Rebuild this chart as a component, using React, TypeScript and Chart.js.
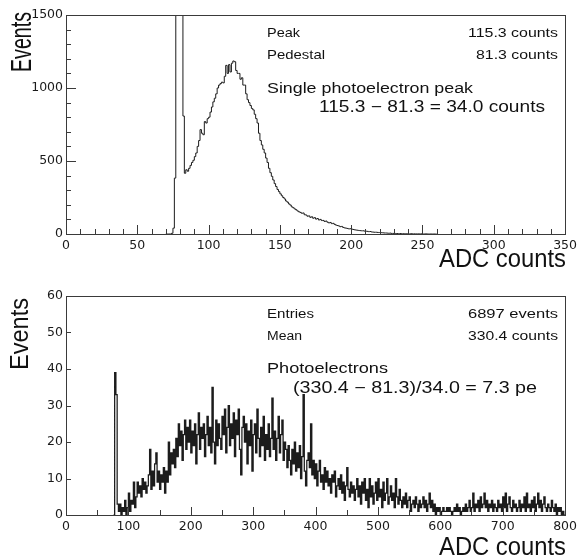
import React, { useEffect, useRef } from "react";
import { Chart, registerables } from "chart.js";

Chart.register(...registerables);

// ---------------- DATA ----------------
// Top histogram: single photoelectron spectrum, 1 ADC count per bin, first bin at 70
const topFirstBin = 70;
const topBinWidth = 1;
const topCounts = [
  0, 0, 0, 0, 5, 40, 383, 2600, 4800, 5200,
  3900, 2100, 808, 416, 440, 430, 450, 470, 490, 505,
  530, 555, 600, 640, 715, 690, 680, 770, 760, 790,
  800, 835, 870, 905, 930, 960, 1000, 1020, 1030, 1040,
  1035, 1080, 1155, 1100, 1160, 1110, 1170, 1185, 1180, 1120,
  1100, 1100, 1060, 1070, 1020, 1020, 960, 920, 900, 880,
  860, 850, 820, 790, 760, 690, 640, 610, 580, 555,
  520, 490, 450, 420, 395, 370, 345, 325, 305, 290,
  275, 262, 250, 240, 226, 218, 206, 198, 186, 180,
  172, 166, 158, 152, 148, 142, 144, 132, 130, 122,
  124, 114, 118, 108, 112, 102, 106, 96, 100, 92,
  93, 86, 89, 81, 76, 79, 71, 73, 66, 61,
  58, 55, 50, 52, 45, 42, 40, 38, 35, 36,
  34, 31, 29, 27, 26, 24, 23, 22, 22, 20,
  19, 18, 16, 17, 14, 13, 12, 12, 11, 10,
  10, 9, 8, 7, 7, 6, 5, 6, 4, 4,
  4, 3, 3, 2, 3, 2, 2, 1, 2, 1,
  1, 1, 2, 0, 1, 1, 0, 1, 0, 1,
  0, 0, 1, 0, 0, 0, 0, 0, 0, 0,
];

// Bottom histogram: multi-photoelectron spectrum, 2 ADC counts per bin, first bin at 76
const botFirstBin = 76;
const botBinWidth = 2;
const botCounts = [
  0, 39, 33, 3, 1, 3, 0, 2, 1, 4,
  0, 2, 6, 1, 4, 3, 9, 2, 5, 9,
  6, 8, 5, 10, 7, 9, 6, 8, 11, 18,
  7, 12, 8, 14, 17, 9, 12, 7, 11, 9,
  13, 6, 12, 9, 20, 11, 17, 14, 18, 13,
  21, 16, 25, 19, 23, 15, 22, 26, 18, 24,
  20, 26, 17, 23, 19, 25, 14, 22, 28, 18,
  24, 21, 25, 16, 22, 27, 19, 24, 17, 35,
  20, 14, 26, 19, 25, 21, 18, 27, 22, 29,
  17, 24, 30, 19, 25, 21, 28, 16, 26, 22,
  29, 18, 11, 24, 27, 20, 25, 14, 23, 19,
  26, 12, 22, 25, 17, 29, 21, 16, 24, 19,
  27, 15, 22, 18, 25, 16, 21, 32, 18, 23,
  15, 21, 27, 17, 22, 26, 15, 20, 18, 13,
  19, 15, 11, 18, 14, 20, 12, 17, 13, 19,
  10, 16, 33, 12, 8, 15, 17, 13, 25, 11,
  15, 10, 14, 8, 12, 15, 9, 11, 7, 13,
  9, 12, 8, 10, 6, 11, 9, 12, 5, 8,
  10, 7, 11, 6, 9, 4, 8, 13, 7, 5,
  9, 6, 8, 4, 7, 10, 5, 8, 3, 9,
  6, 10, 4, 7, 2, 10, 5, 8, 3, 6,
  9, 4, 10, 5, 7, 2, 9, 4, 6, 10,
  3, 5, 8, 4, 6, 2, 10, 5, 3, 7,
  4, 2, 5, 3, 6, 2, 4, 5, 1, 3,
  4, 2, 5, 3, 1, 4, 2, 3, 5, 2,
  4, 1, 3, 6, 2, 4, 1, 3, 0, 2,
  1, 2, 0, 1, 2, 1, 1, 2, 1, 2,
  1, 0, 1, 2, 1, 3, 1, 2, 0, 1,
  2, 1, 3, 1, 2, 4, 1, 2, 6, 1,
  3, 2, 4, 1, 5, 2, 3, 6, 2, 4,
  1, 3, 2, 4, 1, 3, 2, 1, 4, 2,
  3, 1, 5, 2, 6, 1, 3, 5, 2, 1,
  4, 2, 3, 1, 2, 4, 1, 3, 2, 5,
  1, 6, 2, 3, 1, 4, 2, 5, 1, 3,
  6, 2, 4, 1, 3, 5, 2, 1, 3, 2,
  1, 4, 2, 1, 3, 0, 2, 1, 2, 0,
  1, 0,
];

// Axis ranges / tick steps
const topXRange = [0, 350];
const topYRange = [0, 1500];
const topXTickStep = 50;
const topYTickStep = 500;
const botXRange = [0, 800];
const botYRange = [0, 60];
const botXTickStep = 100;
const botYTickStep = 10;

// Texts
const yTitle = "Events";
const xTitle = "ADC counts";
const topStatNames = ["Peak", "Pedestal"];
const topStatValues = ["115.3 counts", "81.3 counts"];
const topNote = ["Single photoelectron peak", "115.3 \u2212 81.3 = 34.0 counts"];
const botStatNames = ["Entries", "Mean"];
const botStatValues = ["6897 events", "330.4 counts"];
const botNote = ["Photoelectrons", "(330.4 \u2212 81.3)/34.0 = 7.3 pe"];

// ---------------- STYLE / LAYOUT ----------------
const INK = "#1c1c1c";
const AXIS = "#3a3a3a";
const TEXT_FONT = "'Liberation Sans', Arial, sans-serif";
const TICK_FONT = { family: "'DejaVu Sans', sans-serif", size: 12.5 };

type Txt = {
  text: string;
  x: number;
  y: number;
  cap: number;
  width: number;
  align?: "left" | "right";
  rot?: boolean;
};

type TickSpec = {
  xMinor: number;
  xMajor: number;
  xMinorLen: number;
  xMajorLen: number;
  yMinor: number;
  yMajor: number;
  yMinorLen: number;
  yMajorLen: number;
};

function buildPoints(first: number, width: number, counts: number[]) {
  const pts = counts.map((c, i) => ({ x: first + i * width, y: c }));
  pts.push({ x: first + counts.length * width, y: 0 });
  return pts;
}

function drawFitted(ctx: CanvasRenderingContext2D, t: Txt, dy: number) {
  const size = t.cap / 0.716;
  ctx.font = `${size}px ${TEXT_FONT}`;
  const w0 = ctx.measureText(t.text).width;
  const sx = t.width / w0;
  ctx.save();
  ctx.translate(t.x, t.y - dy);
  if (t.rot) ctx.rotate(-Math.PI / 2);
  if (t.align === "right") ctx.translate(-t.width, 0);
  ctx.scale(sx, 1);
  ctx.textAlign = "left";
  ctx.textBaseline = "alphabetic";
  ctx.fillStyle = "#111";
  ctx.fillText(t.text, 0, 0);
  ctx.restore();
}

function makeDecor(texts: Txt[], ticks: TickSpec, dy: number) {
  return {
    id: "decor",
    afterDatasetsDraw(chart: any) {
      const { ctx, chartArea: a, scales } = chart;
      const x = scales.x;
      const y = scales.y;
      ctx.save();
      ctx.strokeStyle = AXIS;
      ctx.lineWidth = 1;
      ctx.beginPath();
      const eps = 1e-6;
      for (let v = x.min; v <= x.max + eps; v += ticks.xMinor) {
        const px = Math.round(x.getPixelForValue(v)) + 0.5;
        const r = v / ticks.xMajor;
        const major = Math.abs(r - Math.round(r)) < eps;
        const len = major ? ticks.xMajorLen : ticks.xMinorLen;
        ctx.moveTo(px, a.bottom);
        ctx.lineTo(px, a.bottom - len);
      }
      for (let v = y.min; v <= y.max + eps; v += ticks.yMinor) {
        const py = Math.round(y.getPixelForValue(v)) + 0.5;
        const r = v / ticks.yMajor;
        const major = Math.abs(r - Math.round(r)) < eps;
        const len = major ? ticks.yMajorLen : ticks.yMinorLen;
        ctx.moveTo(a.left, py);
        ctx.lineTo(a.left + len, py);
      }
      ctx.stroke();
      ctx.strokeRect(
        Math.round(a.left) + 0.5,
        Math.round(a.top) + 0.5,
        Math.round(a.right - a.left),
        Math.round(a.bottom - a.top)
      );
      ctx.restore();
      texts.forEach((t) => drawFitted(ctx, t, dy));
    },
  };
}

function makeChart(
  canvas: HTMLCanvasElement,
  points: { x: number; y: number }[],
  xr: number[],
  yr: number[],
  xStep: number,
  yStep: number,
  padTop: number,
  xAxisHeight: number,
  lineWidth: number,
  decor: any
) {
  return new Chart(canvas, {
    type: "line",
    data: {
      datasets: [
        {
          data: points,
          stepped: true,
          borderColor: INK,
          borderWidth: lineWidth,
          pointRadius: 0,
          fill: false,
          tension: 0,
        } as any,
      ],
    },
    options: {
      responsive: false,
      animation: false,
      events: [],
      layout: { padding: { left: 0, right: 14, top: padTop, bottom: 0 } },
      plugins: { legend: { display: false }, tooltip: { enabled: false } },
      scales: {
        x: {
          type: "linear",
          min: xr[0],
          max: xr[1],
          afterFit: (s: any) => {
            s.height = xAxisHeight;
          },
          grid: { display: false, drawTicks: false },
          border: { display: false },
          ticks: {
            stepSize: xStep,
            font: TICK_FONT,
            color: "#1a1a1a",
            padding: 4,
            maxRotation: 0,
            autoSkip: false,
            callback: (v: any) => String(v),
          },
        },
        y: {
          type: "linear",
          min: yr[0],
          max: yr[1],
          afterFit: (s: any) => {
            s.width = 66;
          },
          grid: { display: false, drawTicks: false },
          border: { display: false },
          ticks: {
            stepSize: yStep,
            font: TICK_FONT,
            color: "#1a1a1a",
            padding: 3,
            autoSkip: false,
            callback: (v: any) => String(v),
          },
        },
      },
    } as any,
    plugins: [decor],
  });
}

export default function App() {
  const topRef = useRef<HTMLCanvasElement | null>(null);
  const botRef = useRef<HTMLCanvasElement | null>(null);

  useEffect(() => {
    const topTexts: Txt[] = [
      { text: yTitle, x: 31, y: 72, cap: 20.5, width: 60, rot: true },
      { text: xTitle, x: 566, y: 267, cap: 19, width: 127, align: "right" },
      { text: topStatNames[0], x: 267, y: 37.3, cap: 9, width: 33 },
      { text: topStatValues[0], x: 558, y: 37.3, cap: 9, width: 90, align: "right" },
      { text: topStatNames[1], x: 267, y: 59.3, cap: 9, width: 58 },
      { text: topStatValues[1], x: 558, y: 59.3, cap: 9, width: 82, align: "right" },
      { text: topNote[0], x: 267, y: 92.7, cap: 11, width: 206 },
      { text: topNote[1], x: 319, y: 111.7, cap: 11.5, width: 226 },
    ];
    const botTexts: Txt[] = [
      { text: yTitle, x: 28.3, y: 370, cap: 18.3, width: 72, rot: true },
      { text: xTitle, x: 566, y: 555, cap: 18.3, width: 127, align: "right" },
      { text: botStatNames[0], x: 267, y: 318.3, cap: 8.5, width: 47 },
      { text: botStatValues[0], x: 558, y: 318.3, cap: 8.5, width: 90, align: "right" },
      { text: botStatNames[1], x: 267, y: 340, cap: 8.5, width: 35 },
      { text: botStatValues[1], x: 558, y: 340, cap: 8.5, width: 90, align: "right" },
      { text: botNote[0], x: 267, y: 372.7, cap: 11, width: 121 },
      { text: botNote[1], x: 293, y: 393.3, cap: 11.5, width: 244 },
    ];
    const topTicks: TickSpec = {
      xMinor: 10, xMajor: 50, xMinorLen: 5, xMajorLen: 9,
      yMinor: 100, yMajor: 500, yMinorLen: 5, yMajorLen: 10,
    };
    const botTicks: TickSpec = {
      xMinor: 50, xMajor: 100, xMinorLen: 5, xMajorLen: 8,
      yMinor: 10, yMajor: 10, yMinorLen: 5, yMajorLen: 5,
    };

    const c1 = makeChart(
      topRef.current!,
      buildPoints(topFirstBin, topBinWidth, topCounts),
      topXRange, topYRange, topXTickStep, topYTickStep,
      15, 46, 1,
      makeDecor(topTexts, topTicks, 0)
    );
    const c2 = makeChart(
      botRef.current!,
      buildPoints(botFirstBin, botBinWidth, botCounts),
      botXRange, botYRange, botXTickStep, botYTickStep,
      16, 42, 1.25,
      makeDecor(botTexts, botTicks, 280)
    );
    return () => {
      c1.destroy();
      c2.destroy();
    };
  }, []);

  return (
    <div
      style={{
        position: "absolute",
        left: 0,
        top: 0,
        width: 581,
        height: 557,
        background: "#fff",
      }}
    >
      <canvas ref={topRef} width={581} height={280} style={{ display: "block" }} />
      <canvas ref={botRef} width={581} height={277} style={{ display: "block" }} />
    </div>
  );
}
